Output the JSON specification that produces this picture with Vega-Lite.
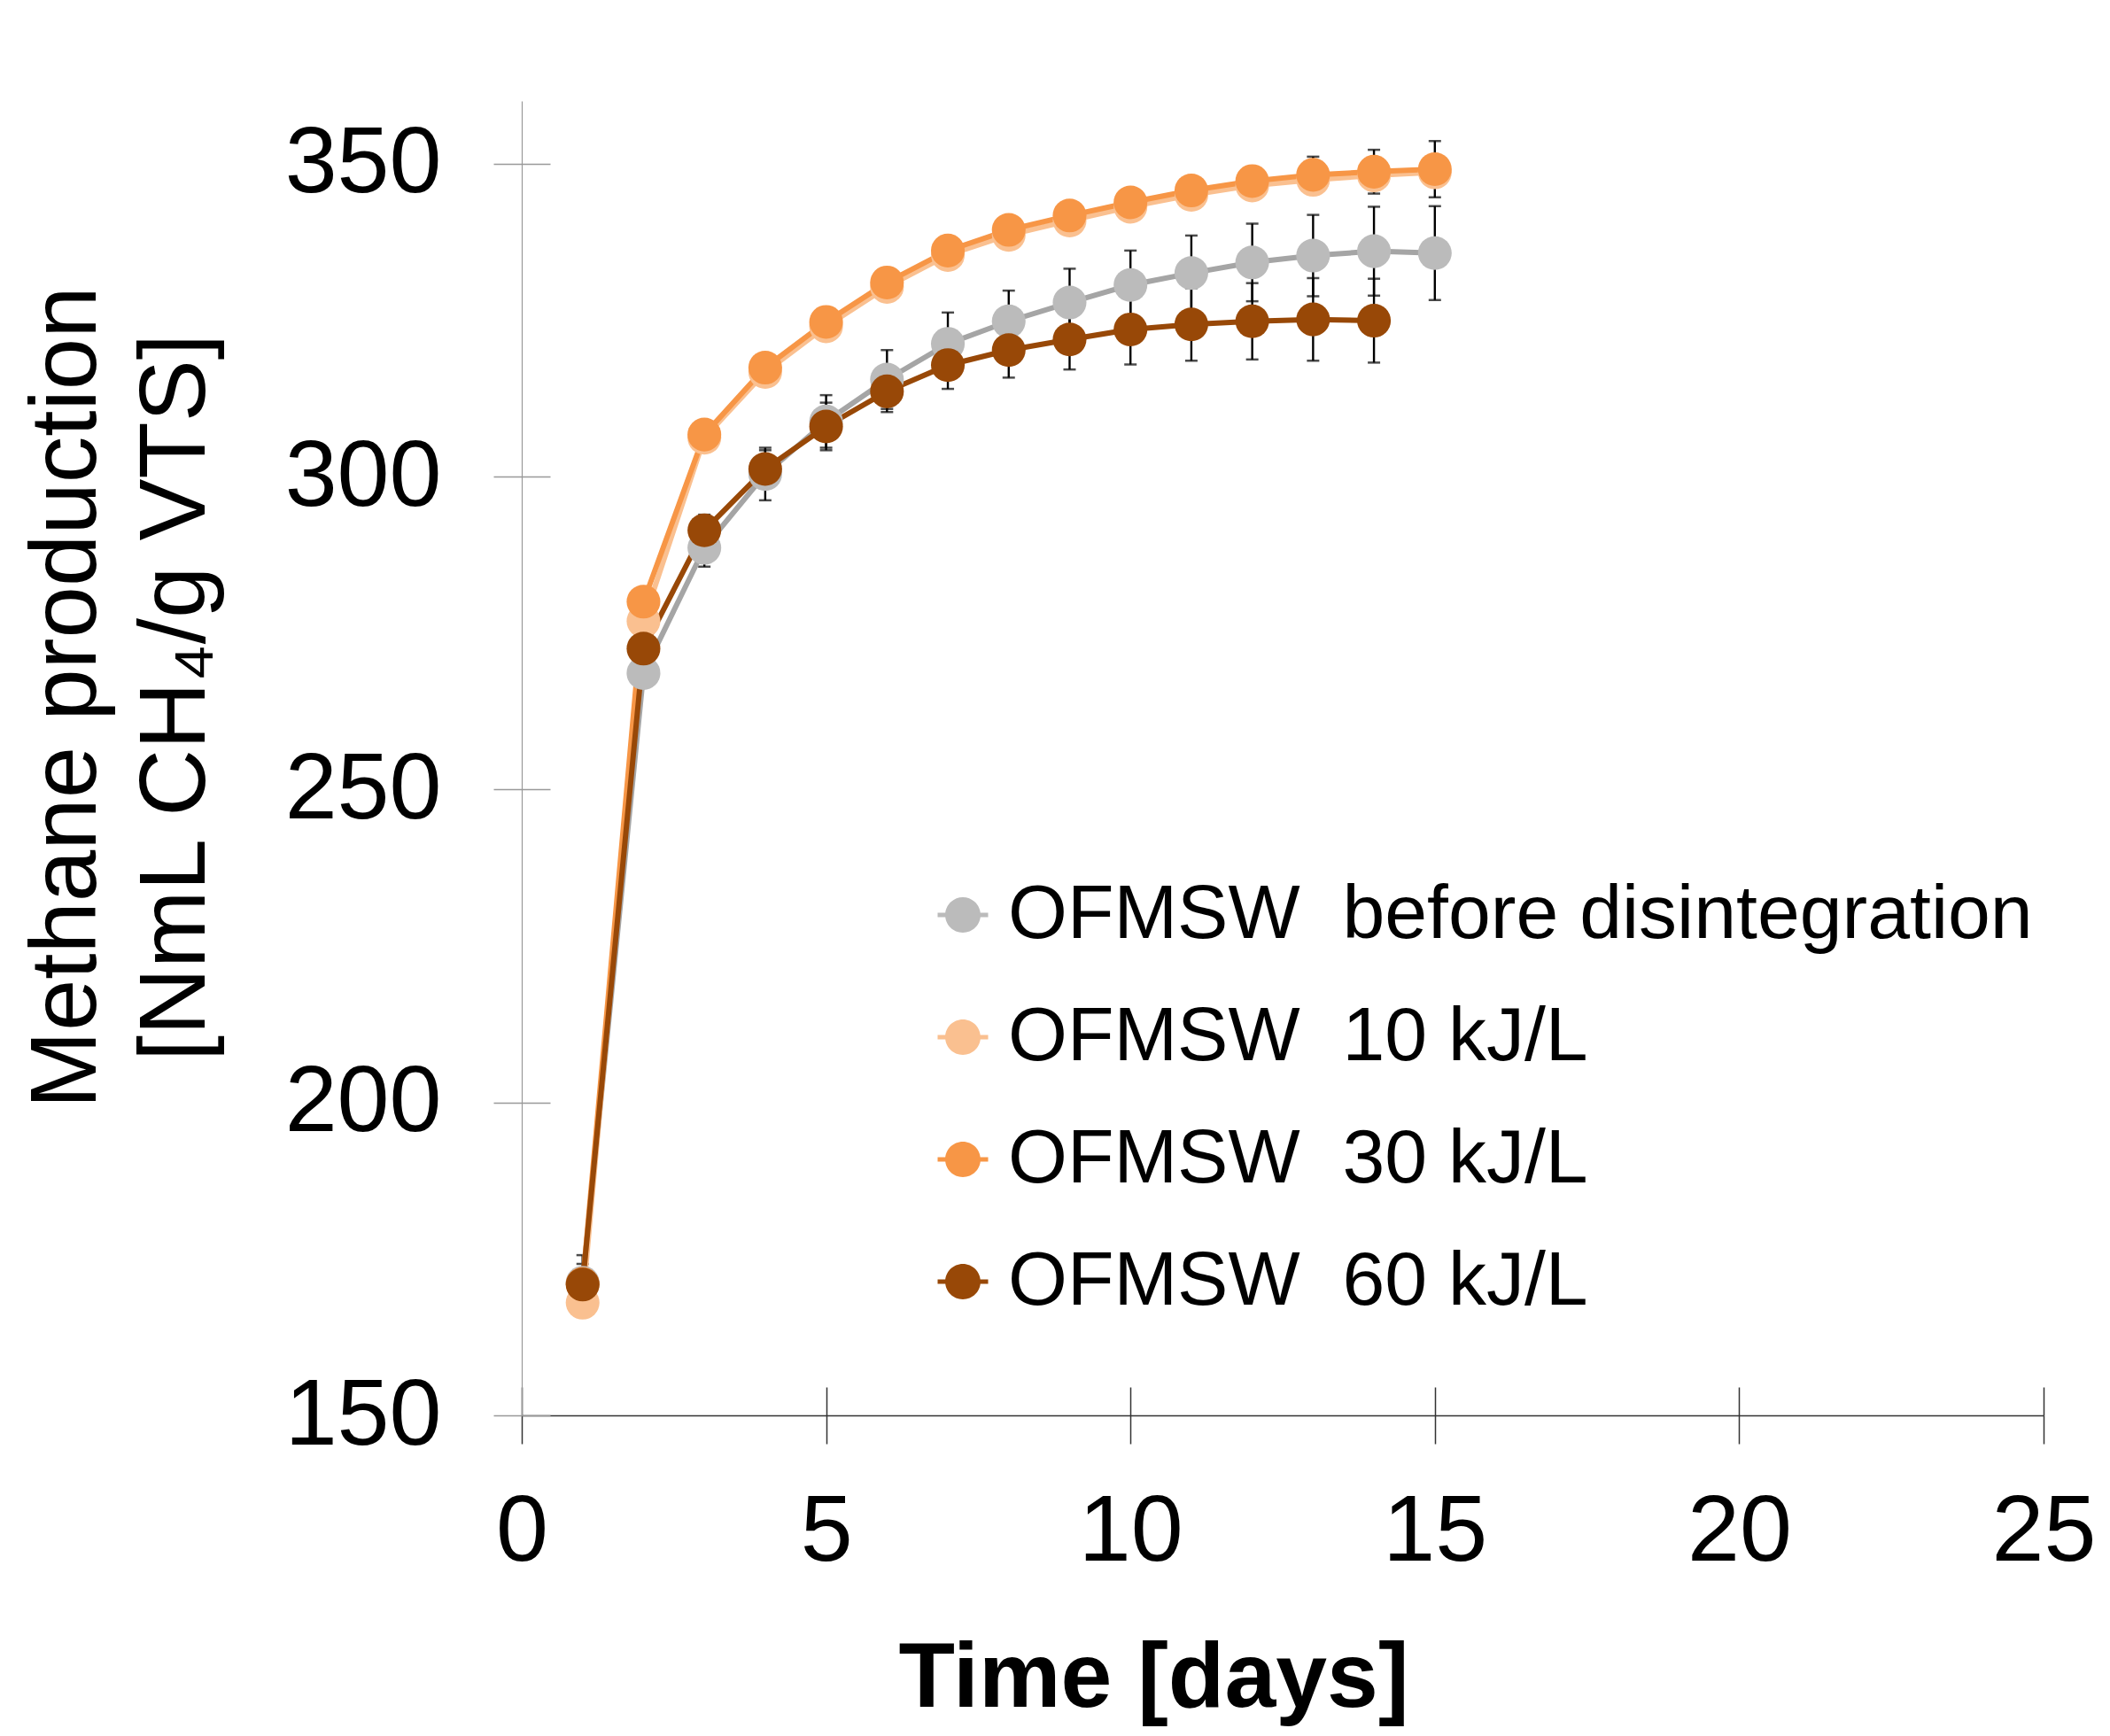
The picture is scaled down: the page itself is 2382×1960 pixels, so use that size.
{
  "$schema": "https://vega.github.io/schema/vega-lite/v6.json",
  "width": 1718,
  "height": 1484,
  "autosize": {"type": "none"},
  "padding": {"left": 589, "top": 114, "right": 75, "bottom": 362},
  "background": "white",
  "config": {
    "view": {"stroke": null},
    "font": "Liberation Sans",
    "axis": {"labelFont": "Liberation Sans", "titleFont": "Liberation Sans", "labelColor": "#000000", "titleColor": "#000000", "grid": false},
    "legend": {"orient": "none", "legendX": 455, "legendY": 876, "padding": 0,
      "symbolType": "M-1,-0.09L-0.65,-0.09L-0.65,0.09L-1,0.09Z M0.65,-0.09L1,-0.09L1,0.09L0.65,0.09Z M-0.7,0A0.7,0.7 0 1,1 0.7,0A0.7,0.7 0 1,1 -0.7,0Z",
      "symbolSize": 3249, "symbolStrokeWidth": 0, "symbolOpacity": 1,
      "labelFontSize": 86, "labelFont": "Liberation Sans", "labelColor": "#000000", "labelOffset": 8, "rowPadding": 52, "labelLimit": 0}
  },
  "data": {
    "values": [
      {"series": "OFMSW\u00a0\u00a0before disintegration", "k": 0, "day": 1, "value": 171.2, "err": 3.0},
      {"series": "OFMSW\u00a0\u00a0before disintegration", "k": 0, "day": 2, "value": 268.6, "err": 2.0},
      {"series": "OFMSW\u00a0\u00a0before disintegration", "k": 0, "day": 3, "value": 288.6, "err": 3.0},
      {"series": "OFMSW\u00a0\u00a0before disintegration", "k": 0, "day": 4, "value": 300.4, "err": 4.2},
      {"series": "OFMSW\u00a0\u00a0before disintegration", "k": 0, "day": 5, "value": 308.8, "err": 4.2},
      {"series": "OFMSW\u00a0\u00a0before disintegration", "k": 0, "day": 6, "value": 315.5, "err": 4.7},
      {"series": "OFMSW\u00a0\u00a0before disintegration", "k": 0, "day": 7, "value": 321.2, "err": 5.0},
      {"series": "OFMSW\u00a0\u00a0before disintegration", "k": 0, "day": 8, "value": 324.8, "err": 4.9},
      {"series": "OFMSW\u00a0\u00a0before disintegration", "k": 0, "day": 9, "value": 327.8, "err": 5.4},
      {"series": "OFMSW\u00a0\u00a0before disintegration", "k": 0, "day": 10, "value": 330.6, "err": 5.5},
      {"series": "OFMSW\u00a0\u00a0before disintegration", "k": 0, "day": 11, "value": 332.5, "err": 6.0},
      {"series": "OFMSW\u00a0\u00a0before disintegration", "k": 0, "day": 12, "value": 334.2, "err": 6.2},
      {"series": "OFMSW\u00a0\u00a0before disintegration", "k": 0, "day": 13, "value": 335.3, "err": 6.5},
      {"series": "OFMSW\u00a0\u00a0before disintegration", "k": 0, "day": 14, "value": 336.0, "err": 7.1},
      {"series": "OFMSW\u00a0\u00a0before disintegration", "k": 0, "day": 15, "value": 335.7, "err": 7.5},
      {"series": "OFMSW\u00a0\u00a010 kJ/L", "k": 1, "day": 1, "value": 168.0, "err": 1.5},
      {"series": "OFMSW\u00a0\u00a010 kJ/L", "k": 1, "day": 2, "value": 276.9, "err": 1.5},
      {"series": "OFMSW\u00a0\u00a010 kJ/L", "k": 1, "day": 3, "value": 306.2, "err": 1.5},
      {"series": "OFMSW\u00a0\u00a010 kJ/L", "k": 1, "day": 4, "value": 316.7, "err": 1.5},
      {"series": "OFMSW\u00a0\u00a010 kJ/L", "k": 1, "day": 5, "value": 324.0, "err": 1.5},
      {"series": "OFMSW\u00a0\u00a010 kJ/L", "k": 1, "day": 6, "value": 330.3, "err": 1.5},
      {"series": "OFMSW\u00a0\u00a010 kJ/L", "k": 1, "day": 7, "value": 335.4, "err": 1.5},
      {"series": "OFMSW\u00a0\u00a010 kJ/L", "k": 1, "day": 8, "value": 338.6, "err": 1.5},
      {"series": "OFMSW\u00a0\u00a010 kJ/L", "k": 1, "day": 9, "value": 340.9, "err": 1.5},
      {"series": "OFMSW\u00a0\u00a010 kJ/L", "k": 1, "day": 10, "value": 343.1, "err": 1.5},
      {"series": "OFMSW\u00a0\u00a010 kJ/L", "k": 1, "day": 11, "value": 345.0, "err": 1.5},
      {"series": "OFMSW\u00a0\u00a010 kJ/L", "k": 1, "day": 12, "value": 346.5, "err": 1.5},
      {"series": "OFMSW\u00a0\u00a010 kJ/L", "k": 1, "day": 13, "value": 347.4, "err": 1.5},
      {"series": "OFMSW\u00a0\u00a010 kJ/L", "k": 1, "day": 14, "value": 348.1, "err": 1.5},
      {"series": "OFMSW\u00a0\u00a010 kJ/L", "k": 1, "day": 15, "value": 348.6, "err": 1.5},
      {"series": "OFMSW\u00a0\u00a030 kJ/L", "k": 2, "day": 1, "value": 171.0, "err": 2.0},
      {"series": "OFMSW\u00a0\u00a030 kJ/L", "k": 2, "day": 2, "value": 280.0, "err": 2.0},
      {"series": "OFMSW\u00a0\u00a030 kJ/L", "k": 2, "day": 3, "value": 306.7, "err": 2.0},
      {"series": "OFMSW\u00a0\u00a030 kJ/L", "k": 2, "day": 4, "value": 317.4, "err": 2.0},
      {"series": "OFMSW\u00a0\u00a030 kJ/L", "k": 2, "day": 5, "value": 324.7, "err": 2.0},
      {"series": "OFMSW\u00a0\u00a030 kJ/L", "k": 2, "day": 6, "value": 331.0, "err": 2.0},
      {"series": "OFMSW\u00a0\u00a030 kJ/L", "k": 2, "day": 7, "value": 336.1, "err": 2.0},
      {"series": "OFMSW\u00a0\u00a030 kJ/L", "k": 2, "day": 8, "value": 339.4, "err": 2.0},
      {"series": "OFMSW\u00a0\u00a030 kJ/L", "k": 2, "day": 9, "value": 341.7, "err": 2.0},
      {"series": "OFMSW\u00a0\u00a030 kJ/L", "k": 2, "day": 10, "value": 343.8, "err": 2.0},
      {"series": "OFMSW\u00a0\u00a030 kJ/L", "k": 2, "day": 11, "value": 345.7, "err": 2.0},
      {"series": "OFMSW\u00a0\u00a030 kJ/L", "k": 2, "day": 12, "value": 347.2, "err": 2.2},
      {"series": "OFMSW\u00a0\u00a030 kJ/L", "k": 2, "day": 13, "value": 348.2, "err": 2.9},
      {"series": "OFMSW\u00a0\u00a030 kJ/L", "k": 2, "day": 14, "value": 348.7, "err": 3.5},
      {"series": "OFMSW\u00a0\u00a030 kJ/L", "k": 2, "day": 15, "value": 349.1, "err": 4.5},
      {"series": "OFMSW\u00a0\u00a060 kJ/L", "k": 3, "day": 1, "value": 170.9, "err": 4.7},
      {"series": "OFMSW\u00a0\u00a060 kJ/L", "k": 3, "day": 2, "value": 272.5, "err": 2.0},
      {"series": "OFMSW\u00a0\u00a060 kJ/L", "k": 3, "day": 3, "value": 291.4, "err": 2.5},
      {"series": "OFMSW\u00a0\u00a060 kJ/L", "k": 3, "day": 4, "value": 301.2, "err": 3.0},
      {"series": "OFMSW\u00a0\u00a060 kJ/L", "k": 3, "day": 5, "value": 308.0, "err": 3.8},
      {"series": "OFMSW\u00a0\u00a060 kJ/L", "k": 3, "day": 6, "value": 313.6, "err": 3.3},
      {"series": "OFMSW\u00a0\u00a060 kJ/L", "k": 3, "day": 7, "value": 317.8, "err": 3.8},
      {"series": "OFMSW\u00a0\u00a060 kJ/L", "k": 3, "day": 8, "value": 320.2, "err": 4.4},
      {"series": "OFMSW\u00a0\u00a060 kJ/L", "k": 3, "day": 9, "value": 321.9, "err": 4.8},
      {"series": "OFMSW\u00a0\u00a060 kJ/L", "k": 3, "day": 10, "value": 323.5, "err": 5.6},
      {"series": "OFMSW\u00a0\u00a060 kJ/L", "k": 3, "day": 11, "value": 324.3, "err": 5.8},
      {"series": "OFMSW\u00a0\u00a060 kJ/L", "k": 3, "day": 12, "value": 324.8, "err": 6.1},
      {"series": "OFMSW\u00a0\u00a060 kJ/L", "k": 3, "day": 13, "value": 325.1, "err": 6.6},
      {"series": "OFMSW\u00a0\u00a060 kJ/L", "k": 3, "day": 14, "value": 324.9, "err": 6.7}
    ]
  },
  "resolve": {"axis": {"x": "independent", "y": "independent"}},
  "layer": [
    {
      "mark": {
        "type": "errorbar",
        "ticks": {"size": 14, "thickness": 2.5, "color": "#000000"},
        "rule": {"strokeWidth": 2.4, "color": "#000000"}
      },
      "encoding": {
        "x": {"field": "day", "type": "quantitative", "axis": null, "scale": {"domain": [0, 25], "nice": false}},
        "y": {"field": "value", "type": "quantitative", "axis": null, "scale": {"domain": [150, 360], "nice": false, "zero": false}},
        "yError": {"field": "err"}
      }
    },
    {
      "mark": {"type": "line", "strokeWidth": 6},
      "encoding": {
        "x": {"field": "day", "type": "quantitative", "scale": {"domain": [0, 25], "nice": false},
          "axis": {"orient": "bottom", "values": [0, 5, 10, 15, 20, 25], "tickSize": -32, "tickWidth": 1.5, "tickColor": "#333333", "labels": false, "domain": false, "title": null}},
        "y": {"field": "value", "type": "quantitative", "scale": {"domain": [150, 360], "nice": false, "zero": false},
          "axis": {"orient": "left", "values": [150, 200, 250, 300, 350], "tickSize": -32, "tickWidth": 1.3, "tickColor": "#999999", "labels": false, "domain": false, "title": null}},
        "stroke": {"field": "series", "type": "nominal",
          "scale": {"domain": ["OFMSW\u00a0\u00a0before disintegration", "OFMSW\u00a0\u00a010 kJ/L", "OFMSW\u00a0\u00a030 kJ/L", "OFMSW\u00a0\u00a060 kJ/L"], "range": ["#A5A5A5", "#FAC090", "#F79646", "#984807"]},
          "legend": {"title": null}},
        "order": {"field": "day", "type": "quantitative"}
      }
    },
    {
      "mark": {"type": "point", "shape": "circle", "filled": true, "size": 1450, "opacity": 1},
      "encoding": {
        "x": {"field": "day", "type": "quantitative", "scale": {"domain": [0, 25], "nice": false},
          "axis": {"orient": "bottom", "values": [0, 5, 10, 15, 20, 25], "tickSize": 32, "tickWidth": 1.5, "tickColor": "#333333", "domainColor": "#333333", "domainWidth": 1.6,
            "labelFontSize": 106, "labelPadding": 47, "labelFlush": false, "labelOverlap": false,
            "title": "Time [days]", "titleFontSize": 104, "titleFontWeight": "bold", "titleX": 713, "titleY": 328, "titleAlign": "center", "titleBaseline": "alphabetic"}},
        "y": {"field": "value", "type": "quantitative", "scale": {"domain": [150, 360], "nice": false, "zero": false},
          "axis": {"orient": "left", "values": [150, 200, 250, 300, 350], "tickSize": 32, "tickWidth": 1.3, "tickColor": "#999999", "domainColor": "#999999", "domainWidth": 1.2,
            "labelFontSize": 106, "labelPadding": 59, "labelOverlap": false,
            "title": ["Methane production", "[NmL CH\u2084/g VTS]"], "titleFontSize": 105, "titleFontWeight": "normal", "titleLineHeight": 123,
            "titleX": -482, "titleY": 673, "titleAngle": 270, "titleAlign": "center", "titleBaseline": "alphabetic"}},
        "fill": {"field": "series", "type": "nominal",
          "scale": {"domain": ["OFMSW\u00a0\u00a0before disintegration", "OFMSW\u00a0\u00a010 kJ/L", "OFMSW\u00a0\u00a030 kJ/L", "OFMSW\u00a0\u00a060 kJ/L"], "range": ["#BBBBBB", "#FAC090", "#F79646", "#984807"]},
          "legend": {"title": null}},
        "order": {"field": "k", "type": "quantitative"}
      }
    }
  ]
}
